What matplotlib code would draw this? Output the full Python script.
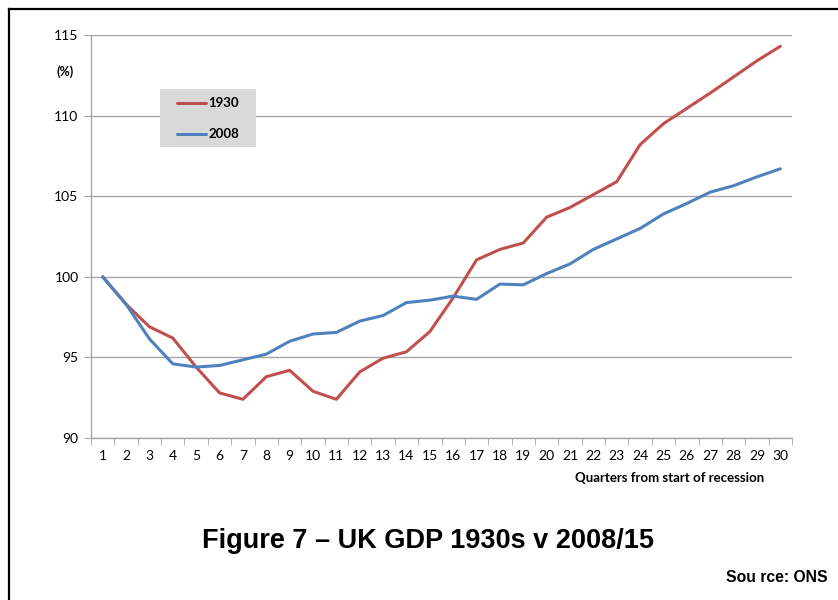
import matplotlib.pyplot as plt
from matplotlib.lines import Line2D
from matplotlib.patches import Rectangle
import numpy as np

quarters = list(range(1, 31))
gdp_1930 = [100.0, 98.3, 96.9, 96.2, 94.4, 92.8, 92.4, 93.8, 94.2, 92.9,
            92.4, 94.1, 94.95, 95.35, 96.6, 98.7, 101.05, 101.7, 102.1, 103.7,
            104.3, 105.1, 105.9, 108.2, 109.5, 110.45, 111.4, 112.4, 113.4, 114.3]
gdp_2008 = [100.0, 98.3, 96.15, 94.6, 94.4, 94.5, 94.85, 95.2, 96.0, 96.45,
            96.55, 97.25, 97.6, 98.4, 98.55, 98.8, 98.6, 99.55, 99.5, 100.2,
            100.8, 101.7, 102.35, 103.0, 103.9, 104.55, 105.25, 105.65, 106.2, 106.7]
y_ticks = [90, 95, 100, 105, 110, 115]

red = "#C0504D"
blue = "#4F81BD"
grid_col = "#A6A6A6"
tick_font = "Lato"

fig = plt.figure(figsize=(8.38, 6.0), dpi=100)
ax = fig.add_axes([91 / 838, 1 - 438 / 600, 701 / 838, 403 / 600])

x = np.arange(len(quarters))
ax.plot(x, gdp_1930, color=red, lw=2.2, label="1930", solid_capstyle="round")
ax.plot(x, gdp_2008, color=blue, lw=2.2, label="2008", solid_capstyle="round")

ax.set_xlim(-0.5, len(quarters) - 0.5)
ax.set_ylim(90, 115)
ax.set_yticks(y_ticks)
ax.set_yticklabels([str(v) for v in y_ticks], fontsize=10, family=tick_font)
ax.yaxis.grid(True, color=grid_col, lw=1.0)
ax.set_axisbelow(True)

# category labels centred, tick marks on the boundaries
ax.set_xticks(x)
ax.set_xticklabels([str(q) for q in quarters], fontsize=10, family=tick_font)
ax.tick_params(axis="x", which="major", length=0, pad=9)
ax.set_xticks(np.arange(-0.5, len(quarters), 1.0), minor=True)
ax.tick_params(axis="x", which="minor", length=5, color=grid_col, direction="out")
ax.tick_params(axis="y", length=5, color=grid_col, pad=4)

for side in ("top", "right"):
    ax.spines[side].set_visible(False)
for side in ("left", "bottom"):
    ax.spines[side].set_color(grid_col)
    ax.spines[side].set_linewidth(1.0)

# grey legend box, then the legend entries on top of it
ax.add_patch(Rectangle((69 / 701, 291 / 403), 96 / 701, 58 / 403,
                       transform=ax.transAxes, facecolor="#D9D9D9",
                       edgecolor="none", zorder=4))
leg = ax.legend(loc="center left", bbox_to_anchor=(86 / 701, 0.792), frameon=False,
                handlelength=2.2, handletextpad=0.2, labelspacing=1.45,
                borderpad=0, borderaxespad=0,
                prop={"family": tick_font, "weight": "bold", "size": 9.5})
leg.set_zorder(5)

fig.text(65 / 838, 1 - 72 / 600, "(%)", ha="center", va="center",
         fontsize=9, fontweight="bold", family=tick_font)
fig.text(670 / 838, 1 - 478 / 600, "Quarters from start of recession",
         ha="center", va="center", fontsize=9.5, fontweight="bold", family=tick_font)
fig.text(428 / 838, 1 - 541 / 600, "Figure 7 \u2013 UK GDP 1930s v 2008/15",
         ha="center", va="center", fontsize=19.5, fontweight="bold",
         family="Liberation Sans")
fig.text(828 / 838, 1 - 577 / 600, "Sou rce: ONS", ha="right", va="center",
         fontsize=11.3, fontweight="bold", family="Liberation Sans")

# page frame (left and top edges)
fig.add_artist(Line2D([9 / 838, 9 / 838], [0, 1 - 9 / 600], color="black", lw=1.6))
fig.add_artist(Line2D([9 / 838, 1], [1 - 9 / 600, 1 - 9 / 600], color="black", lw=1.6))

fig.savefig("out.png", dpi=100)
